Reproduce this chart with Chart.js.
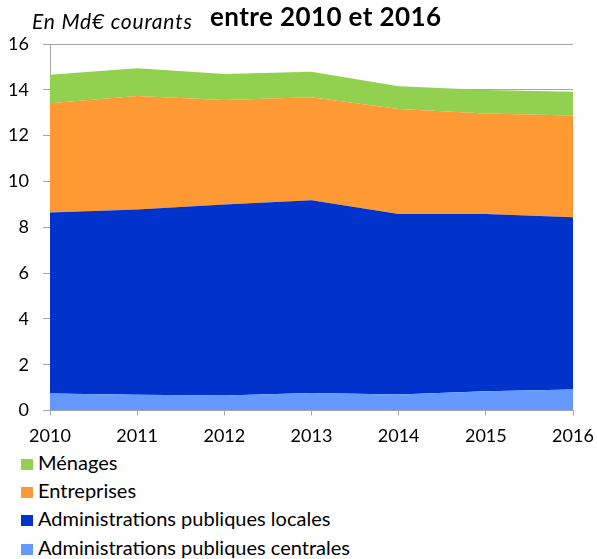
<!DOCTYPE html>
<html>
<head>
<meta charset="utf-8">
<script src="https://cdn.jsdelivr.net/npm/chart.js@4"></script>
<style>
  body { margin: 0; background: #fff; font-family: Lato, "Open Sans", sans-serif; }
  #wrap { position: relative; width: 597px; height: 559px; }
  #chart { position: absolute; left: 0; top: 0; }
  #title { position: absolute; left: 210px; top: 0px; font-size: 26px; font-weight: bold; color: #000; letter-spacing: 0.4px; }
  #unit { position: absolute; left: 32px; top: 8px; font-size: 21px; font-style: italic; color: #000; letter-spacing: 0.8px; }
  #legend { position: absolute; left: 21px; top: 449px; font-size: 20px; color: #000; }
  #legend div { height: 28.2px; line-height: 26px; white-space: nowrap; }
  #legend span { display: inline-block; width: 12px; height: 11px; margin-right: 5px; vertical-align: 0px; }
</style>
</head>
<body>
<div id="wrap">
  <canvas id="chart" width="597" height="445"></canvas>
  <div id="unit">En Md€ courants</div>
  <div id="title">entre 2010 et 2016</div>
  <div id="legend"></div>
</div>
<script>
// donnees (en Md€ courants), empilees du bas vers le haut
let years = ["2010", "2011", "2012", "2013", "2014", "2015", "2016"];
let centrales = [0.74, 0.69, 0.66, 0.76, 0.70, 0.84, 0.92];
let locales = [7.90, 8.08, 8.33, 8.42, 7.88, 7.74, 7.52];
let entreprises = [4.77, 4.96, 4.56, 4.50, 4.58, 4.39, 4.44];
let menages = [1.25, 1.21, 1.14, 1.11, 1.00, 1.02, 1.04];
let yTicks = [0, 2, 4, 6, 8, 10, 12, 14, 16];

let series = [
    { label: "Administrations publiques centrales", data: centrales, color: "#6699FF" },
    { label: "Administrations publiques locales", data: locales, color: "#0033CC" },
    { label: "Entreprises", data: entreprises, color: "#FF9933" },
    { label: "Ménages", data: menages, color: "#92D050" }
];

let datasets = [];
for (let i = 0; i < series.length; i++) {
    datasets.push({
        label: series[i].label,
        data: series[i].data,
        backgroundColor: series[i].color,
        borderWidth: 0,
        pointRadius: 0,
        tension: 0,
        fill: i == 0 ? "origin" : "-1"
    });
}

let font = { family: "Lato, 'Open Sans', sans-serif", size: 18 };

let ctx = document.getElementById("chart").getContext("2d");
let chart = new Chart(ctx, {
    type: 'line',
    data: {
        labels: years,
        datasets: datasets
    },
    options: {
        responsive: false,
        animation: false,
        layout: { padding: { top: 44, right: 24, left: 0, bottom: 0 } },
        plugins: {
            legend: { display: false },
            tooltip: { enabled: false }
        },
        scales: {
            x: {
                offset: false,
                afterFit: (axis) => {
                    axis.height = 34.5;
                    axis.paddingLeft = 0;
                    axis.paddingRight = 0;
                },
                grid: { drawOnChartArea: false, drawTicks: true, tickLength: 5, color: "#A6A6A6" },
                border: { color: "#A6A6A6" },
                ticks: { color: "#000", font: font, padding: 10, maxRotation: 0 }
            },
            y: {
                stacked: true,
                min: 0,
                max: 16,
                afterFit: (axis) => {
                    axis.width = 50;
                    axis.paddingTop = 0;
                    axis.paddingBottom = 0;
                },
                afterBuildTicks: (axis) => { axis.ticks = yTicks.map(v => ({ value: v })); },
                grid: { color: "#A6A6A6", tickLength: 7 },
                border: { color: "#A6A6A6" },
                ticks: { color: "#000", font: font, padding: 14 }
            }
        }
    }
});

// legende (ordre inverse de l'empilement)
let legend = document.getElementById("legend");
for (let i = series.length - 1; i >= 0; i--) {
    let row = document.createElement("div");
    row.innerHTML = '<span style="background:' + series[i].color + '"></span>' + series[i].label;
    legend.appendChild(row);
}
</script>
</body>
</html>
